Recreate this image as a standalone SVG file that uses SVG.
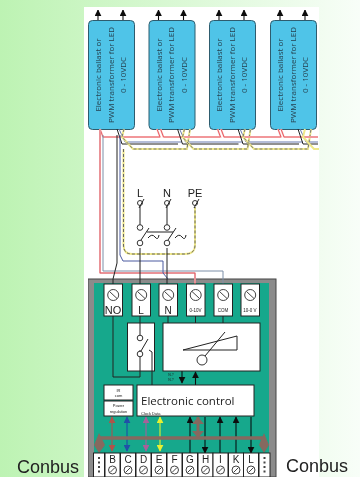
<svg xmlns="http://www.w3.org/2000/svg" xmlns:xlink="http://www.w3.org/1999/xlink" width="360" height="477" viewBox="0 0 360 477">
<defs>
<linearGradient id="bg" x1="0" x2="1" y1="0" y2="0"><stop offset="0" stop-color="#bdf3b3"/><stop offset="1" stop-color="#f8fef8"/></linearGradient>
<filter id="soft" x="0" y="0" width="1" height="1" filterUnits="objectBoundingBox"><feGaussianBlur stdDeviation="0.35"/></filter>
<marker id="ah" viewBox="0 0 10 10" refX="9" refY="5" markerWidth="7" markerHeight="7" markerUnits="userSpaceOnUse" orient="auto-start-reverse"><path d="M0 0L10 5L0 10z" fill="context-stroke"/></marker>
<g id="ballast"><rect x="0.5" y="0.5" width="46" height="109" rx="4" class="bal"/>
<text transform="translate(13 55) rotate(-90)" class="bt">Electronic ballast or</text>
<text transform="translate(25.500 55) rotate(-90)" class="bt">PWM transformer for LED</text>
<text transform="translate(38 55) rotate(-90)" class="bt">0 - 10VDC</text>
<path d="M10 0V-10" class="ar" stroke="#111"/><path d="M35 0V-10" class="ar" stroke="#111"/></g>
<g id="term"><rect x="0" y="0" width="18.5" height="32" class="box"/><circle cx="9.2" cy="11" r="5.5" fill="none" stroke="#444" stroke-width="1"/><path d="M5.5 7.5L13 14.5" stroke="#444"/></g>
<g id="bterm"><rect x="0" y="0" width="15" height="24" class="box" stroke="none"/><circle cx="7.5" cy="17" r="4" fill="none" stroke="#444"/><path d="M5 19.5L10 14.500" stroke="#444"/></g>
<g id="wset"><path d="M0 0L3 8H60L57 0" class="w h" stroke="#fbd4d4"/><path d="M0 0L3 8H60L57 0" class="w" stroke="#e85a60"/><path d="M17 0L22 15H78" class="w" stroke="#222"/><path d="M19 0L25 13H82" class="w" stroke="#6a7ab0"/><path d="M24 0L22 8L33 20H87L90 0" class="w h" stroke="#efe88a"/><path d="M24 0L22 8L33 20H87L90 0" class="w" stroke="#777" stroke-dasharray="3 2"/></g>
<g id="dots"><rect width="11" height="24" class="box"/><path d="M5.500 4V22" stroke="#444" stroke-width="2" stroke-dasharray="2 2.500"/></g>
</defs>
<style>
.bal{fill:#4fc4e8;stroke:#2e5c6e;stroke-width:1}
.bt{font:8px "Open Sans","Liberation Sans",sans-serif;fill:#26414f;text-anchor:middle}
.box{fill:#fff;stroke:#222;stroke-width:1}
.w{fill:none;stroke-width:1}
.h{stroke-width:2}
.lb{font-family:"Liberation Sans",sans-serif;fill:#222;text-anchor:middle}
.ln{fill:none;stroke:#222;stroke-width:1}
.cir{fill:#fff;stroke:#333;stroke-width:1}
.cb{font:18px "Liberation Sans",sans-serif;fill:#222}
.ar{fill:none;stroke-width:1.1;marker-end:url(#ah)}
</style>
<rect width="360" height="477" fill="url(#bg)"/>
<rect x="84" y="7" width="235" height="470" fill="#fff"/>
<g filter="url(#soft)">
<g id="enclosure"><rect x="88" y="279" width="188" height="198" fill="#8b8b8b" stroke="#444"/><rect x="94" y="283" width="175" height="194" fill="#13a88c"/></g>
<g id="ballast-1"><use href="#ballast" x="88" y="20"/></g>
<g id="ballast-2"><use href="#ballast" x="148.500" y="20"/></g>
<g id="ballast-3"><use href="#ballast" x="209" y="20"/></g>
<g id="ballast-4"><use href="#ballast" x="270" y="20"/></g>

<g id="connectors">
<use href="#wset" x="100" y="129"/><use href="#wset" x="160.500" y="129"/><use href="#wset" x="221" y="129"/>
<path d="M281 129L284 137H318" class="w h" stroke="#fbd4d4"/><path d="M281 129L284 137H318" class="w" stroke="#e85a60"/>
<path d="M298 129L303 144H318" class="w" stroke="#222"/><path d="M300 129L306 142H318" class="w" stroke="#6a7ab0"/>
<path d="M305 129L303 137L314 149H319" class="w h" stroke="#efe88a"/>
<path d="M100 129V273H195V284" class="w h" stroke="#fbd4d4"/><path d="M100 129V273H195V284" class="w" stroke="#d8505a"/>
<path d="M103 135V271H223V284" class="w" stroke="#7d8fa8"/>
<path d="M120 135V255L123 261H163V273L168 279" class="w" stroke="#4a5aa0"/>
<path d="M117 135V263L113 279V316" class="ln"/>
<path d="M123.500 149V245Q123.500 254 132 254H185Q195 254 195 245V207" class="w h" stroke="#efe88a"/>
<path d="M123.500 149V245Q123.500 254 132 254H185Q195 254 195 245V207" class="w" stroke="#666" stroke-dasharray="3 2"/>
<path d="M140 206V225M167 206V225M140 248V284M167 248V284" class="ln"/>
<path d="M140 316V334M140 358V377H113M113 316V377" class="ln"/>
<path d="M152 352V385" class="ln"/>
<path d="M182 371V383" class="ar" stroke="#111"/><path d="M195.500 385V372" class="ar" stroke="#111"/>
<path d="M195.500 316V323M223 316V323M168 316V323" class="ln"/>
<path d="M112 417V451" class="ar" stroke="#b0524a" marker-start="url(#ah)"/>
<path d="M127 417V451" class="ar" stroke="#2050a8" marker-start="url(#ah)"/>
<path d="M146 417V451" class="ar" stroke="#a8609a" marker-start="url(#ah)"/>
<path d="M160 417V451" class="ar" stroke="#e6f030" marker-start="url(#ah)"/>
<path d="M190 453V417" class="ar" stroke="#111"/><path d="M220 453V417" class="ar" stroke="#111"/><path d="M236 453V417" class="ar" stroke="#111"/>
<path d="M205 417V453" class="ar" stroke="#111"/><path d="M251 417V453" class="ar" stroke="#111"/>
<path d="M100 438H263" fill="none" stroke="#86695f" stroke-width="3.500"/>
<path d="M198 417V437" fill="none" stroke="#86695f" stroke-width="3"/>
<path d="M192 424L198 417L204 424zM192 431L198 438L204 431zM99 433L105 445L99 453L94 445zM264 433L269 445L264 453L259 445z" fill="#86695f"/>
</g>

<g id="mains"><text class="lb" x="140" y="197" font-size="11">L</text><text class="lb" x="167" y="197" font-size="11">N</text><text class="lb" x="195" y="197" font-size="11">PE</text>
<circle class="cir" cx="140" cy="203" r="2.500"/><circle class="cir" cx="167" cy="203" r="2.500"/><circle class="cir" cx="195" cy="203" r="2.500"/>
<path d="M139 208L144 199M166 208L171 199M194 208L199 199" class="ln" stroke-width="0.700"/>
<circle class="cir" cx="140" cy="227.500" r="2.800"/><circle class="cir" cx="167" cy="227.500" r="2.800"/><circle class="cir" cx="140" cy="243" r="2.800"/><circle class="cir" cx="167" cy="243" r="2.800"/>
<path d="M141 240L149 228M168 240L176 228M147 232H173M148 238Q152 233 155 237T159 235M175 238Q179 233 182 237T186 235" class="ln" stroke-width="0.800"/></g>

<g id="terminal-NO"><use href="#term" x="104" y="284"/><text class="lb" x="113" y="314" font-size="11">NO</text></g>
<g id="terminal-L"><use href="#term" x="132" y="284"/><text class="lb" x="141" y="314" font-size="10">L</text></g>
<g id="terminal-N"><use href="#term" x="159" y="284"/><text class="lb" x="168" y="314" font-size="10">N</text></g>
<g id="terminal-010"><use href="#term" x="186.500" y="284"/><text class="lb" x="195.500" y="312" font-size="4.500">0-10V</text></g>
<g id="terminal-COM"><use href="#term" x="214" y="284"/><text class="lb" x="223" y="312" font-size="4.500">COM</text></g>
<g id="terminal-100"><use href="#term" x="241" y="284"/><text class="lb" x="250" y="312" font-size="4.500">10-0 V</text></g>

<g id="relay"><rect class="box" x="127.500" y="323" width="27" height="48"/><path d="M140 323V339M140 350V371" class="ln"/><circle class="cir" cx="140" cy="338" r="2.800"/><circle class="cir" cx="140" cy="354" r="2.800"/><path d="M141 351L148 339" class="ln"/><path d="M149 350L152 352V371" class="ln" stroke-width="0.800"/></g>
<g id="dimmer"><rect class="box" x="163" y="323" width="97" height="48"/><path d="M183 350L237 336V350z" class="ln"/><circle class="cir" cx="202" cy="360" r="5"/><path d="M205 356L225 332" class="ln"/></g>
<text class="lb" x="171" y="376" font-size="3.500">N.?</text><text class="lb" x="171" y="381" font-size="3.500">N.?</text>

<g id="ir"><rect class="box" x="104" y="385" width="29" height="15"/><text class="lb" x="118.500" y="391.500" font-size="4">IR</text><text class="lb" x="118.500" y="396.500" font-size="4">com</text></g>
<g id="power"><rect class="box" x="104" y="401" width="29" height="15"/><text class="lb" x="118.500" y="406.500" font-size="4">Power</text><text class="lb" x="118.500" y="412.500" font-size="4">regulation</text></g>
<g id="control"><rect class="box" x="137" y="385" width="117" height="31"/><text x="141" y="405" font-family="'Open Sans','Liberation Sans',sans-serif" font-size="11.500" fill="#222">Electronic control</text><text x="141" y="415" font-family="'Liberation Sans',sans-serif" font-size="4" fill="#222">Clock  Data</text></g>

<g id="bottom"><use href="#dots" x="93.500" y="453"/><use href="#dots" x="259" y="453"/>
<use href="#bterm" x="105" y="453"/><use href="#bterm" x="120.500" y="453"/><use href="#bterm" x="136" y="453"/><use href="#bterm" x="151.500" y="453"/><use href="#bterm" x="167" y="453"/><use href="#bterm" x="182.500" y="453"/><use href="#bterm" x="198" y="453"/><use href="#bterm" x="213" y="453"/><use href="#bterm" x="228.500" y="453"/><use href="#bterm" x="243.500" y="453"/>
<g font-size="10"><text class="lb" x="112.500" y="463">B</text><text class="lb" x="128" y="463">C</text><text class="lb" x="143.500" y="463">D</text><text class="lb" x="159" y="463">E</text><text class="lb" x="174.500" y="463">F</text><text class="lb" x="190" y="463">G</text><text class="lb" x="205.500" y="463">H</text><text class="lb" x="220.500" y="463">I</text><text class="lb" x="236" y="463">K</text><text class="lb" x="251" y="463">L</text></g></g>
</g>
<text class="cb" x="17" y="473">Conbus</text><text class="cb" x="286" y="472">Conbus</text>
</svg>
